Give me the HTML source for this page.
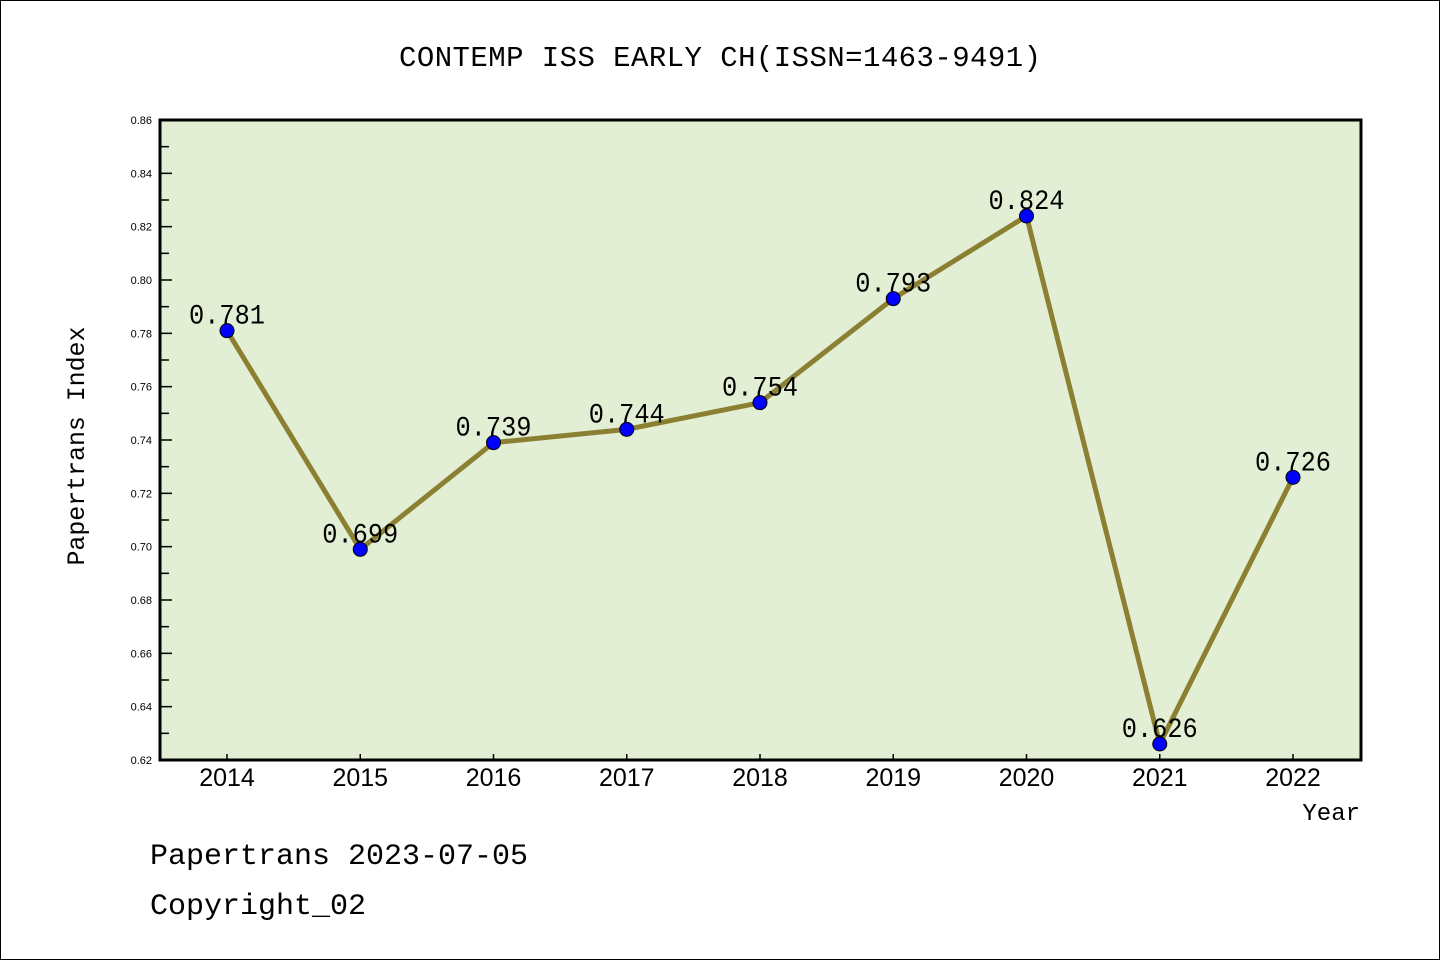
<!DOCTYPE html>
<html><head><meta charset="utf-8"><style>
body{margin:0;background:#fff}
svg{display:block}
.cj{font-family:"Liberation Mono","DejaVu Sans Mono",monospace}
.sn{font-family:"Liberation Sans",sans-serif}
</style></head><body>
<svg id="c" width="1440" height="960">
<rect x="0.5" y="0.5" width="1439" height="959" fill="#fff" stroke="#000"/>
<text class="cj" x="720" y="66" font-size="29" text-anchor="middle" textLength="642">CONTEMP ISS EARLY CH(ISSN=1463-9491)</text>
<rect x="160" y="120" width="1201" height="640" fill="#e2efd4"/>
<g id="ax"></g>
<rect x="160" y="120" width="1201" height="640" fill="none" stroke="#000" stroke-width="3"/>
<text class="cj" transform="translate(84,446) rotate(-90)" font-size="25" text-anchor="middle" textLength="239">Papertrans Index</text>
<text class="cj" x="1360" y="820" font-size="24" text-anchor="end">Year</text>
<text class="cj" x="150" y="864" font-size="30">Papertrans 2023-07-05</text>
<text class="cj" x="150" y="914" font-size="30">Copyright_02</text>
</svg>
<script>
const years=[2014,2015,2016,2017,2018,2019,2020,2021,2022];
const values=[0.781,0.699,0.739,0.744,0.754,0.793,0.824,0.626,0.726];
const yTicks=[0.62,0.64,0.66,0.68,0.70,0.72,0.74,0.76,0.78,0.80,0.82,0.84,0.86];
const yMin=0.62,yMax=0.86;
const NS="http://www.w3.org/2000/svg";
const g=document.getElementById('ax');
function X(i){return 227+i*(1293-227)/(years.length-1);}
function Y(v){return 760-(v-yMin)/(yMax-yMin)*640;}
function mk(t,a){const e=document.createElementNS(NS,t);for(const k in a)e.setAttribute(k,a[k]);g.appendChild(e);return e;}
yTicks.forEach((v,i)=>{
  const y=Y(v);
  const t=mk('line',{x1:160,x2:172,y1:y,y2:y,stroke:'#000','stroke-width':1.5});
  
  
  const l=mk('text',{x:152,y:y+4,'font-size':11,'text-anchor':'end','class':'sn'});
  l.textContent=v.toFixed(2);
  
  
  if(i<yTicks.length-1){
    const ym=Y(v+0.01);
    const m=mk('line',{x1:160,x2:169,y1:ym,y2:ym,stroke:'#000','stroke-width':1.5});
    
    
  }
});
years.forEach((yr,i)=>{
  const x=X(i);
  const t=mk('line',{x1:x,x2:x,y1:754,y2:760,stroke:'#000','stroke-width':1.5});
  
  
  const l=mk('text',{x:x,y:786,'font-size':25,'text-anchor':'middle','class':'sn'});
  l.textContent=yr;
  
  
});
const pts=values.map((v,i)=>X(i)+','+Y(v)).join(' ');
const line=mk('polyline',{points:pts,fill:'none',stroke:'#8b8032','stroke-width':5,'stroke-linejoin':'round'});


values.forEach((v,i)=>{
  const c=mk('circle',{cx:X(i),cy:Y(v),r:7,fill:'#0000ff',stroke:'#000','stroke-width':1});
  
  
});
values.forEach((v,i)=>{
  const l=mk('text',{x:X(i),y:Y(v)-7,'font-size':28,'text-anchor':'middle','class':'cj',textLength:76,lengthAdjust:'spacingAndGlyphs'});
  l.textContent=v.toFixed(3);
  
  
});
</script>
</body></html>
